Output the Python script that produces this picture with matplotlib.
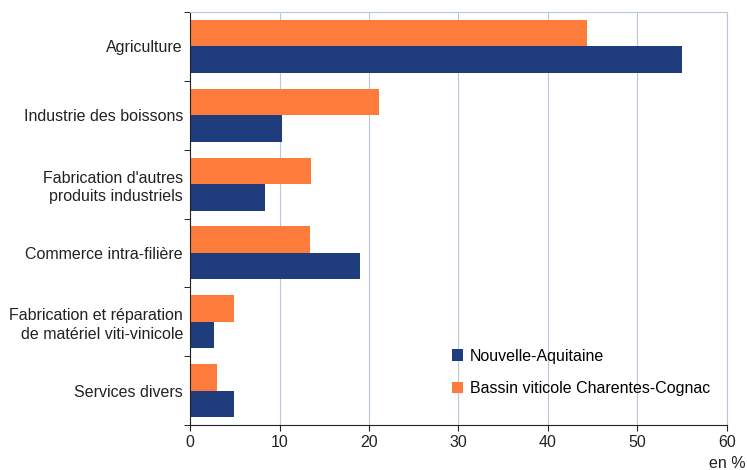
import matplotlib
matplotlib.use("Agg")
import matplotlib.pyplot as plt
import numpy as np

plt.rcParams['font.family'] = ['Liberation Sans', 'DejaVu Sans']

categories = ["Agriculture", "Industrie des boissons", "Fabrication d'autres\nproduits industriels",
              "Commerce intra-filière", "Fabrication et réparation\nde matériel viti-vinicole",
              "Services divers"]
nouvelle_aquitaine = [55.0, 10.3, 8.4, 19.0, 2.7, 4.9]
bassin_cognac = [44.4, 21.1, 13.5, 13.4, 4.9, 3.0]

blue = "#1f3d7c"
orange = "#fd7b3b"
fs = 11.5

fig = plt.figure(figsize=(7.47, 4.70), dpi=100)
ax = fig.add_axes([190 / 747, 45 / 470, 537 / 747, 413 / 470])

y = np.arange(len(categories))
h = 0.385
ax.barh(y + h / 2, nouvelle_aquitaine, height=h, color=blue, label="Nouvelle-Aquitaine")
ax.barh(y - h / 2, bassin_cognac, height=h, color=orange, label="Bassin viticole Charentes-Cognac")

ax.set_ylim(len(categories) - 0.5, -0.5)
ax.set_xlim(0, 60)
ax.set_xticks(range(0, 61, 10))
ax.set_yticks(y)
ax.set_yticklabels(categories, fontsize=fs, color="#222222", linespacing=1.3)
ax.tick_params(axis='y', length=0, pad=5)
ax.tick_params(axis='x', labelsize=fs, colors="#222222", length=4, direction='out')
ax.set_yticks(np.arange(-0.5, len(categories), 1), minor=True)
ax.tick_params(axis='y', which='minor', length=4)

ax.grid(axis='x', color="#b8c8dc", linewidth=0.8)
ax.set_axisbelow(True)
for s in ["top", "right"]:
    ax.spines[s].set_color("#b8c8dc")
for s in ["left", "bottom"]:
    ax.spines[s].set_color("#222222")

ax.text(1.0, -0.075, "en %", transform=ax.transAxes, ha='center', va='top', fontsize=fs, color="#222222")

handles, labels = ax.get_legend_handles_labels()
ax.legend(handles, labels, loc='lower right', bbox_to_anchor=(0.995, 0.035), frameon=False,
          fontsize=fs, handlelength=0.7, handleheight=0.7, labelspacing=1.1, handletextpad=0.4)

fig.savefig("out.png", dpi=100)
